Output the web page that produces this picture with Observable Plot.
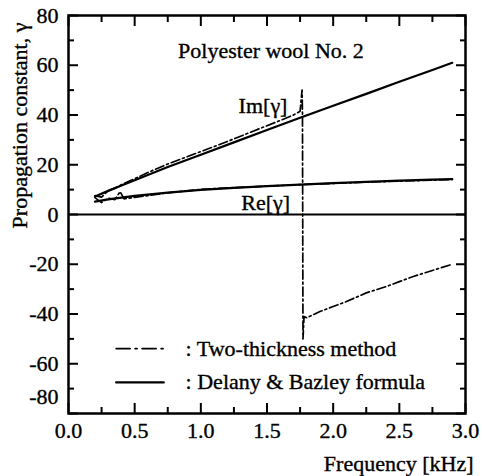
<!DOCTYPE html>
<html>
<head>
<meta charset="utf-8">
<script src="https://cdn.jsdelivr.net/npm/d3@7"></script>
<script src="https://cdn.jsdelivr.net/npm/@observablehq/plot@0.6"></script>
<style>
  html, body { margin: 0; padding: 0; background: #fff; }
  #chart svg { display: block; font-family: 'Liberation Serif', 'Times New Roman', serif; }
  #chart svg text { font-family: 'Liberation Serif', 'Times New Roman', serif; stroke: black; stroke-width: 0.35px; }
</style>
</head>
<body>
<div id="chart"></div>
<script>
// ---- data ----
// Delany & Bazley formula (solid)
const dbFreq = [0.2, 0.3, 0.4, 0.5, 0.75, 1.0, 1.25, 1.5, 1.75, 2.0, 2.25, 2.5, 2.75, 2.9];
const dbIm   = [7.2, 9.5, 11.7, 13.8, 19.1, 24.0, 29.0, 34.0, 38.9, 43.7, 48.5, 53.4, 58.1, 61.0];
const dbRe   = [5.2, 6.1, 6.8, 7.5, 8.8, 9.9, 10.7, 11.4, 12.0, 12.6, 13.1, 13.6, 14.0, 14.2];

// Two-thickness method (dash-dot)
const ttImFreq = [0.2, 0.25, 0.3, 0.35, 0.4, 0.5, 0.6, 0.75, 0.9, 1.0, 1.1, 1.25, 1.4, 1.5, 1.6, 1.7, 1.75,
                  1.765, 1.768, 1.772, 1.78, 1.8, 1.9, 2.0, 2.1, 2.25, 2.4, 2.5, 2.6, 2.75, 2.9];
const ttIm     = [7.6, 7.0, 9.6, 10.6, 12.0, 14.4, 16.9, 20.3, 23.3, 25.3, 27.3, 30.4, 33.6, 35.7, 37.8, 40.0, 41.5,
                  50, 41, -50, -41, -41.5, -39, -37, -35, -31.5, -29, -27, -25, -22.5, -20];
const ttReFreq = [0.2, 0.25, 0.3, 0.35, 0.39, 0.42, 0.5, 0.6, 0.75, 1.0, 1.25, 1.5, 1.75, 2.0, 2.25, 2.5, 2.75, 2.9];
const ttRe     = [6.8, 4.8, 6.6, 6.0, 9.2, 6.3, 6.9, 7.6, 8.7, 10.1, 10.8, 11.4, 12.0, 12.5, 13.0, 13.4, 13.8, 14.1];

// ticks
const xMajor = [0, 0.5, 1.0, 1.5, 2.0, 2.5, 3.0];
const xMinor = [0.25, 0.75, 1.25, 1.75, 2.25, 2.75];
const yMajor = [-80, -60, -40, -20, 0, 20, 40, 60, 80];
const yMinor = [-70, -50, -30, -10, 10, 30, 50, 70];
const yLabelTicks = [-60, -40, -20, 0, 20, 40, 60, 80];
const yLowTick = [-80];

// texts
const titleText = "Polyester wool No. 2";
const imLabel = "Im[γ]";
const reLabel = "Re[γ]";
const legendLabels = [": Two-thickness method", ": Delany & Bazley formula"];
const xTitle = "Frequency [kHz]";
const yTitle = "Propagation constant, γ";

// ---- build ----
const toRows = (xs, ys) => xs.map((x, i) => ({x, y: ys[i]}));
const dashDot = "9,3,2,3";
const fmt1 = d3.format(".1f");
const fmtInt = d => String(d).replace("\u2212", "-");
const FS = 22;

const chart = Plot.plot({
  width: 482,
  height: 476,
  marginLeft: 68,
  marginRight: 17,
  marginTop: 15,
  marginBottom: 63,
  x: {domain: [0, 3]},
  y: {domain: [-80, 80]},
  style: {fontFamily: "'Liberation Serif', 'Times New Roman', serif", fontSize: FS + "px", background: "white", color: "black"},
  marks: [
    Plot.ruleY([0], {strokeWidth: 1.8}),
    // data lines
    Plot.line(toRows(dbFreq, dbIm), {x: "x", y: "y", strokeWidth: 2.2}),
    Plot.line(toRows(dbFreq, dbRe), {x: "x", y: "y", strokeWidth: 2.2}),
    Plot.line(toRows(ttImFreq, ttIm), {x: "x", y: "y", strokeWidth: 1.7, strokeDasharray: dashDot}),
    Plot.line(toRows(ttReFreq, ttRe), {x: "x", y: "y", strokeWidth: 1.7, strokeDasharray: dashDot}),
    // inner ticks
    Plot.axisX({anchor: "bottom", ticks: xMajor, tickSize: -10, strokeWidth: 2, tickFormat: () => "", label: null}),
    Plot.axisX({anchor: "bottom", ticks: xMinor, tickSize: -6, strokeWidth: 2, tickFormat: () => "", label: null}),
    Plot.axisX({anchor: "top", ticks: xMajor, tickSize: -10, strokeWidth: 2, tickFormat: () => "", label: null}),
    Plot.axisX({anchor: "top", ticks: xMinor, tickSize: -6, strokeWidth: 2, tickFormat: () => "", label: null}),
    Plot.axisY({anchor: "left", ticks: yMajor, tickSize: -10, strokeWidth: 2, tickFormat: () => "", label: null}),
    Plot.axisY({anchor: "left", ticks: yMinor, tickSize: -6, strokeWidth: 2, tickFormat: () => "", label: null}),
    Plot.axisY({anchor: "right", ticks: yMajor, tickSize: -10, strokeWidth: 2, tickFormat: () => "", label: null}),
    Plot.axisY({anchor: "right", ticks: yMinor, tickSize: -6, strokeWidth: 2, tickFormat: () => "", label: null}),
    // tick labels
    Plot.axisX({anchor: "bottom", ticks: xMajor, tickSize: 0, tickPadding: 9, tickFormat: fmt1, label: null, fontSize: FS}),
    Plot.axisY({anchor: "left", ticks: yLabelTicks, tickSize: 0, tickPadding: 10, tickFormat: fmtInt, label: null, fontSize: FS}),
    Plot.axisY({anchor: "left", ticks: yLowTick, tickSize: 0, tickPadding: 10, tickFormat: fmtInt, dy: -17, label: null, fontSize: FS}),
    Plot.frame({strokeWidth: 2.5}),
    // annotations
    Plot.text([titleText], {x: 1.53, y: 65.9, text: d => d, fontSize: FS}),
    Plot.text([imLabel], {x: 1.47, y: 43.8, text: d => d, fontSize: FS}),
    Plot.text([reLabel], {x: 1.49, y: 4.6, text: d => d, fontSize: FS}),
    // legend
    Plot.line([{x: 0.36, y: -53.9}, {x: 0.72, y: -53.9}], {x: "x", y: "y", strokeWidth: 1.7, strokeDasharray: "14,5,2,5"}),
    Plot.line([{x: 0.36, y: -67.5}, {x: 0.72, y: -67.5}], {x: "x", y: "y", strokeWidth: 2.2}),
    Plot.text([legendLabels[0]], {x: 0.885, y: -53.9, text: d => d, textAnchor: "start", fontSize: FS}),
    Plot.text([legendLabels[1]], {x: 0.885, y: -67.5, text: d => d, textAnchor: "start", fontSize: FS}),
    // axis titles
    Plot.text([xTitle], {frameAnchor: "bottom-right", text: d => d, textAnchor: "end", lineAnchor: "middle", dx: 8, dy: 50, fontSize: FS}),
    Plot.text([yTitle], {frameAnchor: "left", text: d => d, textAnchor: "middle", lineAnchor: "middle", rotate: -90, dx: -49, dy: -89, fontSize: FS})
  ]
});
document.getElementById("chart").appendChild(chart);
</script>
</body>
</html>
